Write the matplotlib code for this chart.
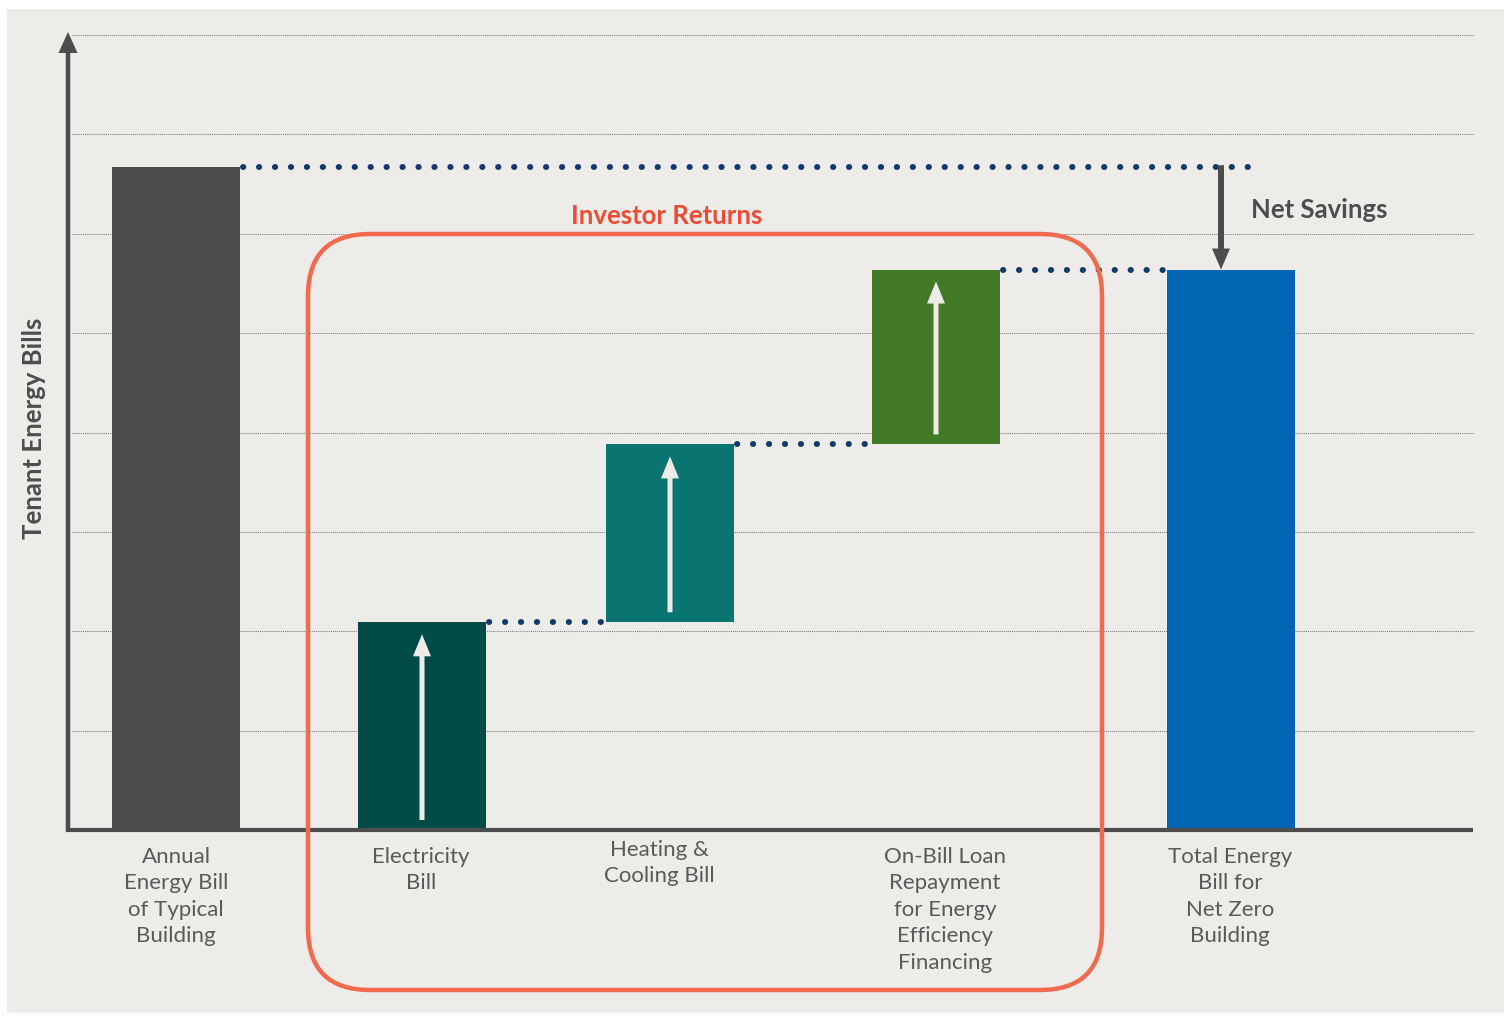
import matplotlib
matplotlib.use("Agg")
import matplotlib.pyplot as plt
from matplotlib.patches import FancyBboxPatch, Rectangle, FancyArrow

# ---------------- data ----------------
categories = [
    "Annual\nEnergy Bill\nof Typical\nBuilding",
    "Electricity\nBill",
    "Heating &\nCooling Bill",
    "On-Bill Loan\nRepayment\nfor Energy\nEfficiency\nFinancing",
    "Total Energy\nBill for\nNet Zero\nBuilding",
]
typical_bill = 6.67              # annual energy bill of typical building
components = [2.09, 1.79, 1.76]  # electricity, heating & cooling, loan repayment
net_zero_bill = 5.64             # total energy bill for net-zero building
grid_levels = [1, 2, 3, 4, 5, 6, 7, 8]

colors = ["#4D4D4F", "#004B47", "#0A7570", "#437A28", "#0066B3"]

# ---------------- layout ----------------
W, H = 1506, 1016
PX = 99.375          # pixels per value unit
BASE = 830           # baseline pixel row
def Y(py):           # pixel row -> value units
    return (BASE - py) / PX

fig = plt.figure(figsize=(W / 100, H / 100), dpi=100, facecolor="white")
fig.patches.append(Rectangle((7 / W, 3 / H), (1504 - 7) / W, (1007 - 3) / H,
                             transform=fig.transFigure, facecolor="#EDECE8",
                             edgecolor="none", zorder=-10))

ax = fig.add_axes([0, 0, 1, 1])
ax.set_xlim(0, W)
ax.set_ylim(Y(H), Y(0))
ax.axis("off")

font = ["Lato", "DejaVu Sans"]
gray_txt = "#5A5A5A"
dark = "#4D4D4F"

bar_x = [176, 422, 670, 936, 1231]
bw = 128

# values -> bars
heights = [typical_bill] + components + [net_zero_bill]
bottoms = [0]
run = 0
for c in components:
    bottoms.append(run)
    run += c
bottoms.append(0)
tops = [b + h for b, h in zip(bottoms, heights)]

# grid
for g in grid_levels:
    ax.plot([72, 1474], [g, g], color="#7A7A7A", lw=0.75,
            linestyle=(0, (1, 1)), zorder=1)

ax.bar(bar_x, heights, bottom=bottoms, width=bw, color=colors, zorder=3)

# connectors (round dots)
dot_kw = dict(color="#14396A", lw=4.3, linestyle=(0, (0.05, 2.62)),
              dash_capstyle="round", zorder=4)
ax.plot([bar_x[0] + bw / 2 + 3, bar_x[4] + 18], [tops[0], tops[0]], **dot_kw)
for i in range(1, 4):
    ax.plot([bar_x[i] + bw / 2 + 3, bar_x[i + 1] - bw / 2],
            [tops[i], tops[i]], **dot_kw)

# arrows inside delta bars
for i in range(1, 4):
    y0 = bottoms[i] + 10 / PX
    y1 = tops[i] - 12 / PX
    ax.add_patch(FancyArrow(bar_x[i], y0, 0, y1 - y0, width=5, head_width=18,
                            head_length=22 / PX, length_includes_head=True,
                            color="#EDECE8", lw=0, zorder=5))

# axes lines
ax.plot([66, 1473], [0, 0], color=dark, lw=3.0, solid_capstyle="butt", zorder=6)
ax.add_patch(FancyArrow(68, Y(832), 0, Y(32) - Y(832), width=4.5, head_width=19,
                        head_length=21 / PX, length_includes_head=True,
                        color=dark, lw=0, zorder=6))

# net savings arrow
ax.add_patch(FancyArrow(1221, typical_bill + 0.02, 0,
                        net_zero_bill - typical_bill - 0.02, width=6,
                        head_width=18, head_length=21 / PX,
                        length_includes_head=True, color=dark, lw=0, zorder=6))
ax.text(1251, Y(218), "Net Savings", fontsize=18.5, fontweight="bold",
        color=dark, family=font, ha="left", va="baseline")

# investor returns box
ax2 = fig.add_axes([0, 0, 1, 1])
ax2.set_xlim(0, W)
ax2.set_ylim(H, 0)
ax2.axis("off")
ax2.add_patch(FancyBboxPatch((308, 234), 1102 - 308, 990 - 234,
                             boxstyle="round,pad=0,rounding_size=62",
                             facecolor="none", edgecolor="#F26A4E", lw=3.2))
ax2.text(667, 224, "Investor Returns", fontsize=18.5, fontweight="bold",
         color="#EE4B35", family=font, ha="center", va="baseline")

# y label
ax2.text(34, 428, "Tenant Energy Bills", fontsize=18.5, fontweight="bold",
         color=dark, family=font, ha="center", va="center", rotation=90)

# category labels
label_x = [176, 421, 659, 945, 1230]
label_y = [847, 847, 840, 847, 847]
for lx, ly, t in zip(label_x, label_y, categories):
    ax2.text(lx, ly, t, fontsize=16, color=gray_txt, family=font,
             ha="center", va="top", linespacing=1.4, multialignment="center")

fig.savefig("out.png", dpi=100, facecolor="white")
